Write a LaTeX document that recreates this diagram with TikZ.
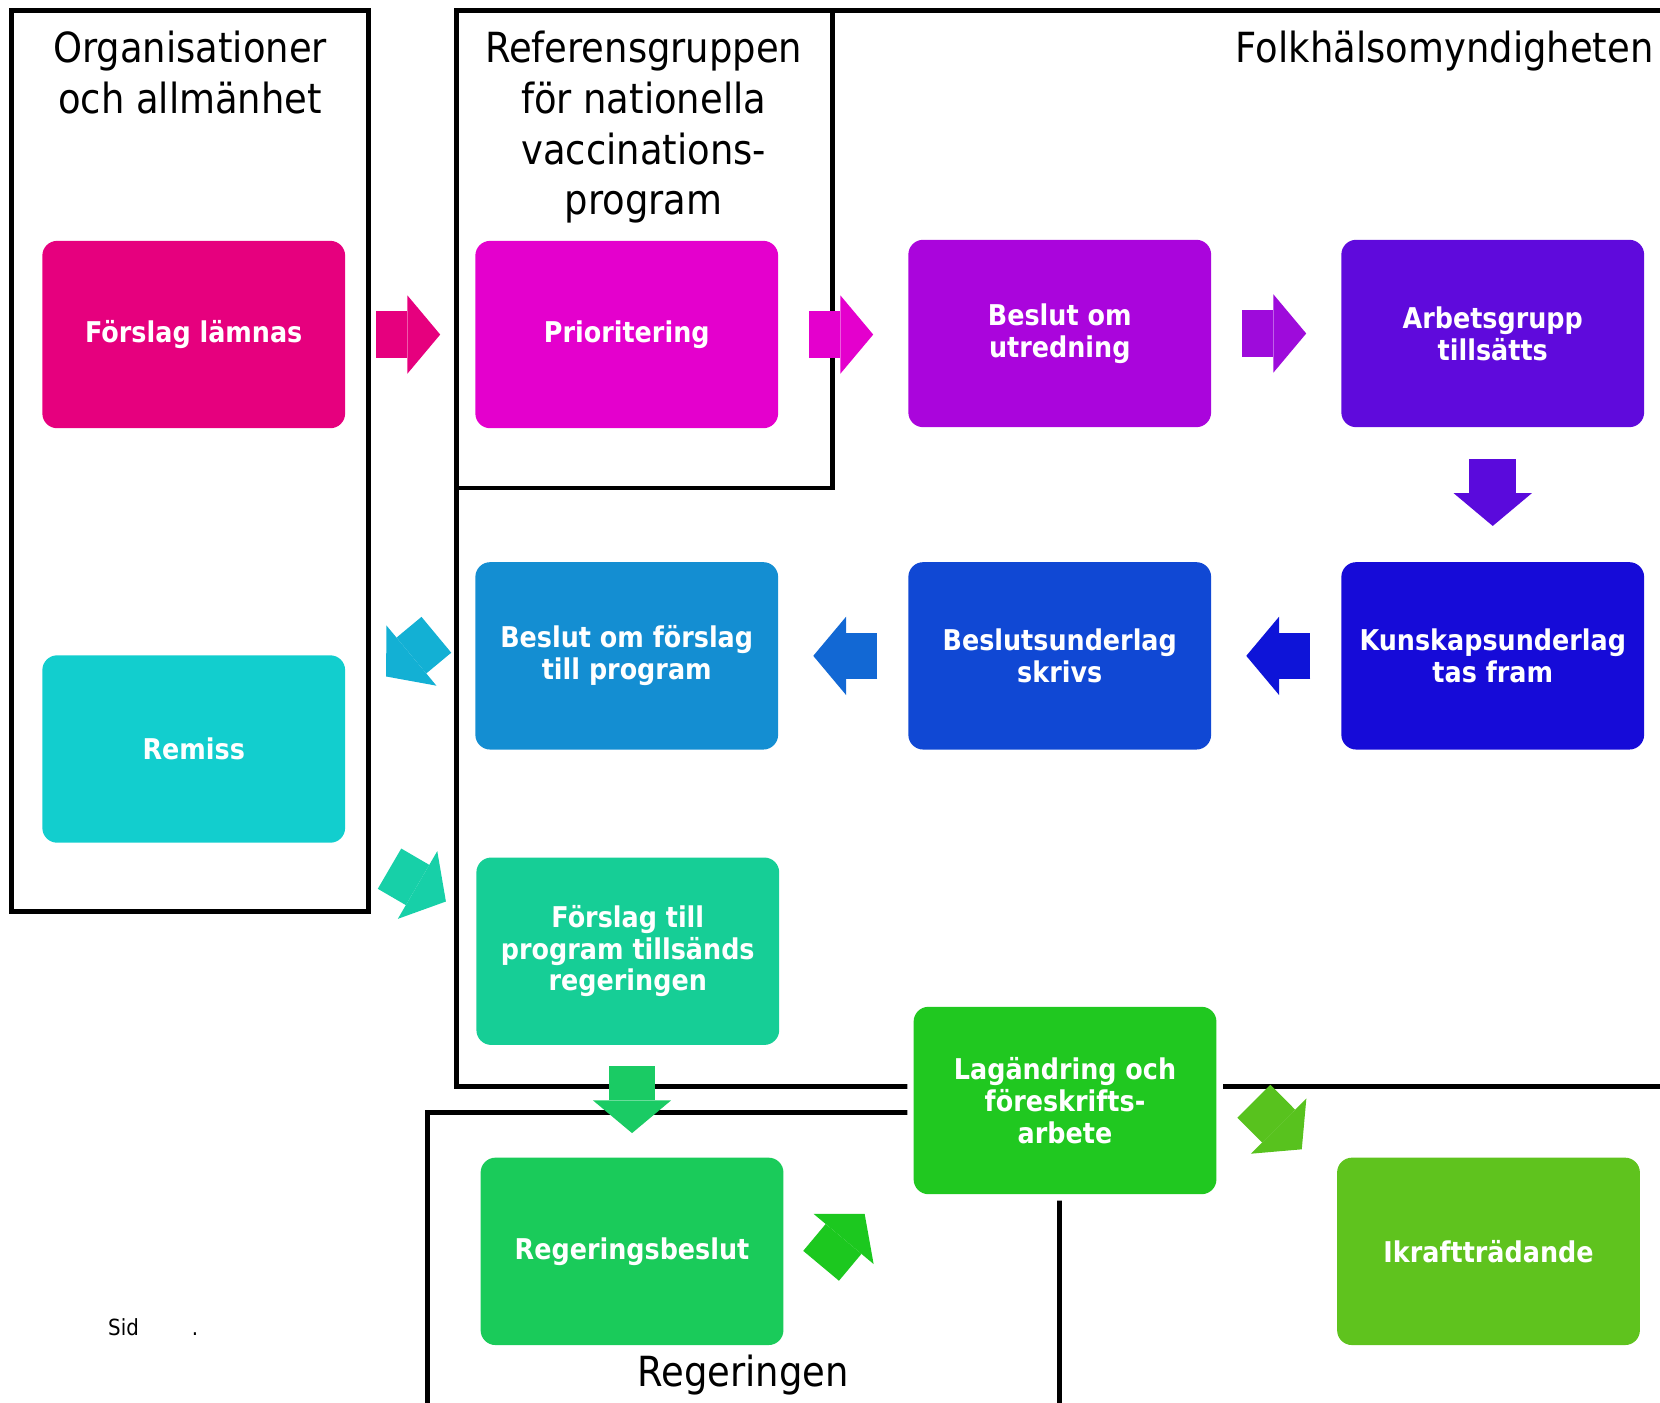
\documentclass[tikz,border=0pt]{standalone}
\usepackage{fontspec}
\setmainfont{DejaVu Sans}[FakeStretch=0.89]
\usetikzlibrary{arrows.meta,calc}
\definecolor{forslagc}{HTML}{E6007E}
\definecolor{prioc}{HTML}{E400CD}
\definecolor{beslutc}{HTML}{AA05DC}
\definecolor{arbgrpc}{HTML}{5F0ADC}
\definecolor{kunskapc}{HTML}{160BD8}
\definecolor{bsuc}{HTML}{1048D4}
\definecolor{bofc}{HTML}{148ED2}
\definecolor{remissc}{HTML}{12CECE}
\definecolor{ftpc}{HTML}{16CE96}
\definecolor{lagc}{HTML}{20C820}
\definecolor{regbc}{HTML}{1ACB5A}
\definecolor{ikrc}{HTML}{5FC31E}
\begin{document}
\begin{tikzpicture}[x=1pt,y=-1pt,
	frame/.style={line width=4.5pt},
	box/.style={rectangle,rounded corners=14pt,minimum width=286pt,minimum height=177pt,inner sep=0pt,text=white,align=center,font=\bfseries\fontsize{27}{30}\selectfont},
	halo/.style={preaction={draw=white,line width=12pt}},
	title/.style={align=center,inner sep=0pt,font=\fontsize{39.2}{48}\selectfont},
	fat/.style={line width=44pt,-{Triangle[width=74pt,length=31pt,line width=0pt]}}]
	\useasboundingbox (0,0) rectangle (1568,1325);
	%		\draw[help lines,step=50](0,0)grid(1568,1325);
	% ramar
	\draw[frame] (11,10) rectangle (348,861);
	\draw[frame] (1575,10) -- (431,10) -- (431,1026) -- (1575,1026);
	\draw[frame] (431,461) -| (786,10);
	\draw[frame] (404,1330) |- (1006,1051);
	\draw[frame] (1001,1040) -- (1001,1330);
	% rubriker (base = sista raden)
	\node[title,anchor=base] (orgtitle) at (179.5,107) {Organisationer\\och allmänhet};
	\node[title,anchor=base] (reftitle) at (608,203) {Referensgruppen\\för nationella\\vaccinations-\\program};
	\node[title,anchor=base east] (fhmtitle) at (1562,59) {Folkhälsomyndigheten};
	\node[title,anchor=base] (regtitle) at (702,1310) {Regeringen};
	\node[anchor=base west,inner sep=0pt,font=\fontsize{21}{24}\selectfont] (sid) at (102,1261) {Sid\hspace{50pt}.};
	% steg
	\node[box,fill=forslagc] (forslag) at (183,316) {Förslag lämnas};
	\node[box,fill=prioc] (prio) at (592,316) {Prioritering};
	\node[box,fill=beslutc] (beslut) at (1001,315) {Beslut om\\utredning};
	\node[box,fill=arbgrpc] (arbgrp) at (1410,315) {Arbetsgrupp\\tillsätts};
	\node[box,fill=kunskapc] (kunskap) at (1410,619.5) {Kunskapsunderlag\\tas fram};
	\node[box,fill=bsuc] (bsu) at (1001,619.5) {Beslutsunderlag\\skrivs};
	\node[box,fill=bofc] (bof) at (592,619.5) {Beslut om förslag\\till program};
	\node[box,fill=remissc] (remiss) at (183,707.5) {Remiss};
	\node[box,fill=ftpc] (ftp) at (593,898.5) {Förslag till\\program tillsänds\\regeringen};
	\node[box,halo,fill=lagc] (lag) at (1006,1039.5) {Lagändring och\\föreskrifts-\\arbete};
	\node[box,fill=regbc] (regb) at (597,1182) {Regeringsbeslut};
	\node[box,fill=ikrc] (ikr) at (1406,1182) {Ikraftträdande};
	% pilar
	\draw[fat,forslagc,shorten <=29pt,shorten >=33pt] (forslag.east) -- (forslag.east -| prio.west);
	\draw[fat,prioc,shorten <=29pt,shorten >=33pt] (prio.east) -- (prio.east -| beslut.west);
	\draw[fat,color={rgb,255:red,158;green,11;blue,219},shorten <=29pt,shorten >=33pt] (beslut.east) -- (arbgrp.west);
	\draw[fat,color={rgb,255:red,90;green,10;blue,220},shorten <=30pt,shorten >=34pt] (arbgrp.south) -- (kunskap.north);
	\draw[fat,color={rgb,255:red,14;green,20;blue,216},shorten <=29pt,shorten >=33pt] (kunskap.west) -- (bsu.east);
	\draw[fat,color={rgb,255:red,18;green,104;blue,212},shorten <=29pt,shorten >=33pt] (bsu.west) -- (bof.east);
	\draw[fat,color={rgb,255:red,19;green,176;blue,212},shorten <=47.6pt,shorten >=50.1pt] ($(bof.west)+(0,-50.3)$) -- ($(remiss.east)+(0,-36.5)$);
	\draw[fat,color={rgb,255:red,23;green,208;blue,168},shorten <=48.3pt,shorten >=33.1pt] (remiss.south east) -- ($(ftp.west)+(0,-30.3)$);
	\draw[fat,color={rgb,255:red,26;green,203;blue,100},shorten <=20pt,shorten >=23pt] (ftp.south -| regb.north) -- (regb.north);
	\draw[fat,color={rgb,255:red,28;green,200;blue,31},shorten <=55.2pt,shorten >=71.9pt] ($(regb.east)+(0,56)$) -- ($(lag.west)+(0,51.8)$);
	\draw[fat,color={rgb,255:red,88;green,194;blue,30},shorten <=49.8pt,shorten >=47pt] ($(lag.east)+(0,-34.6)$) -- ($(ikr.west)+(0,-63.1)$);
\end{tikzpicture}
\end{document}
